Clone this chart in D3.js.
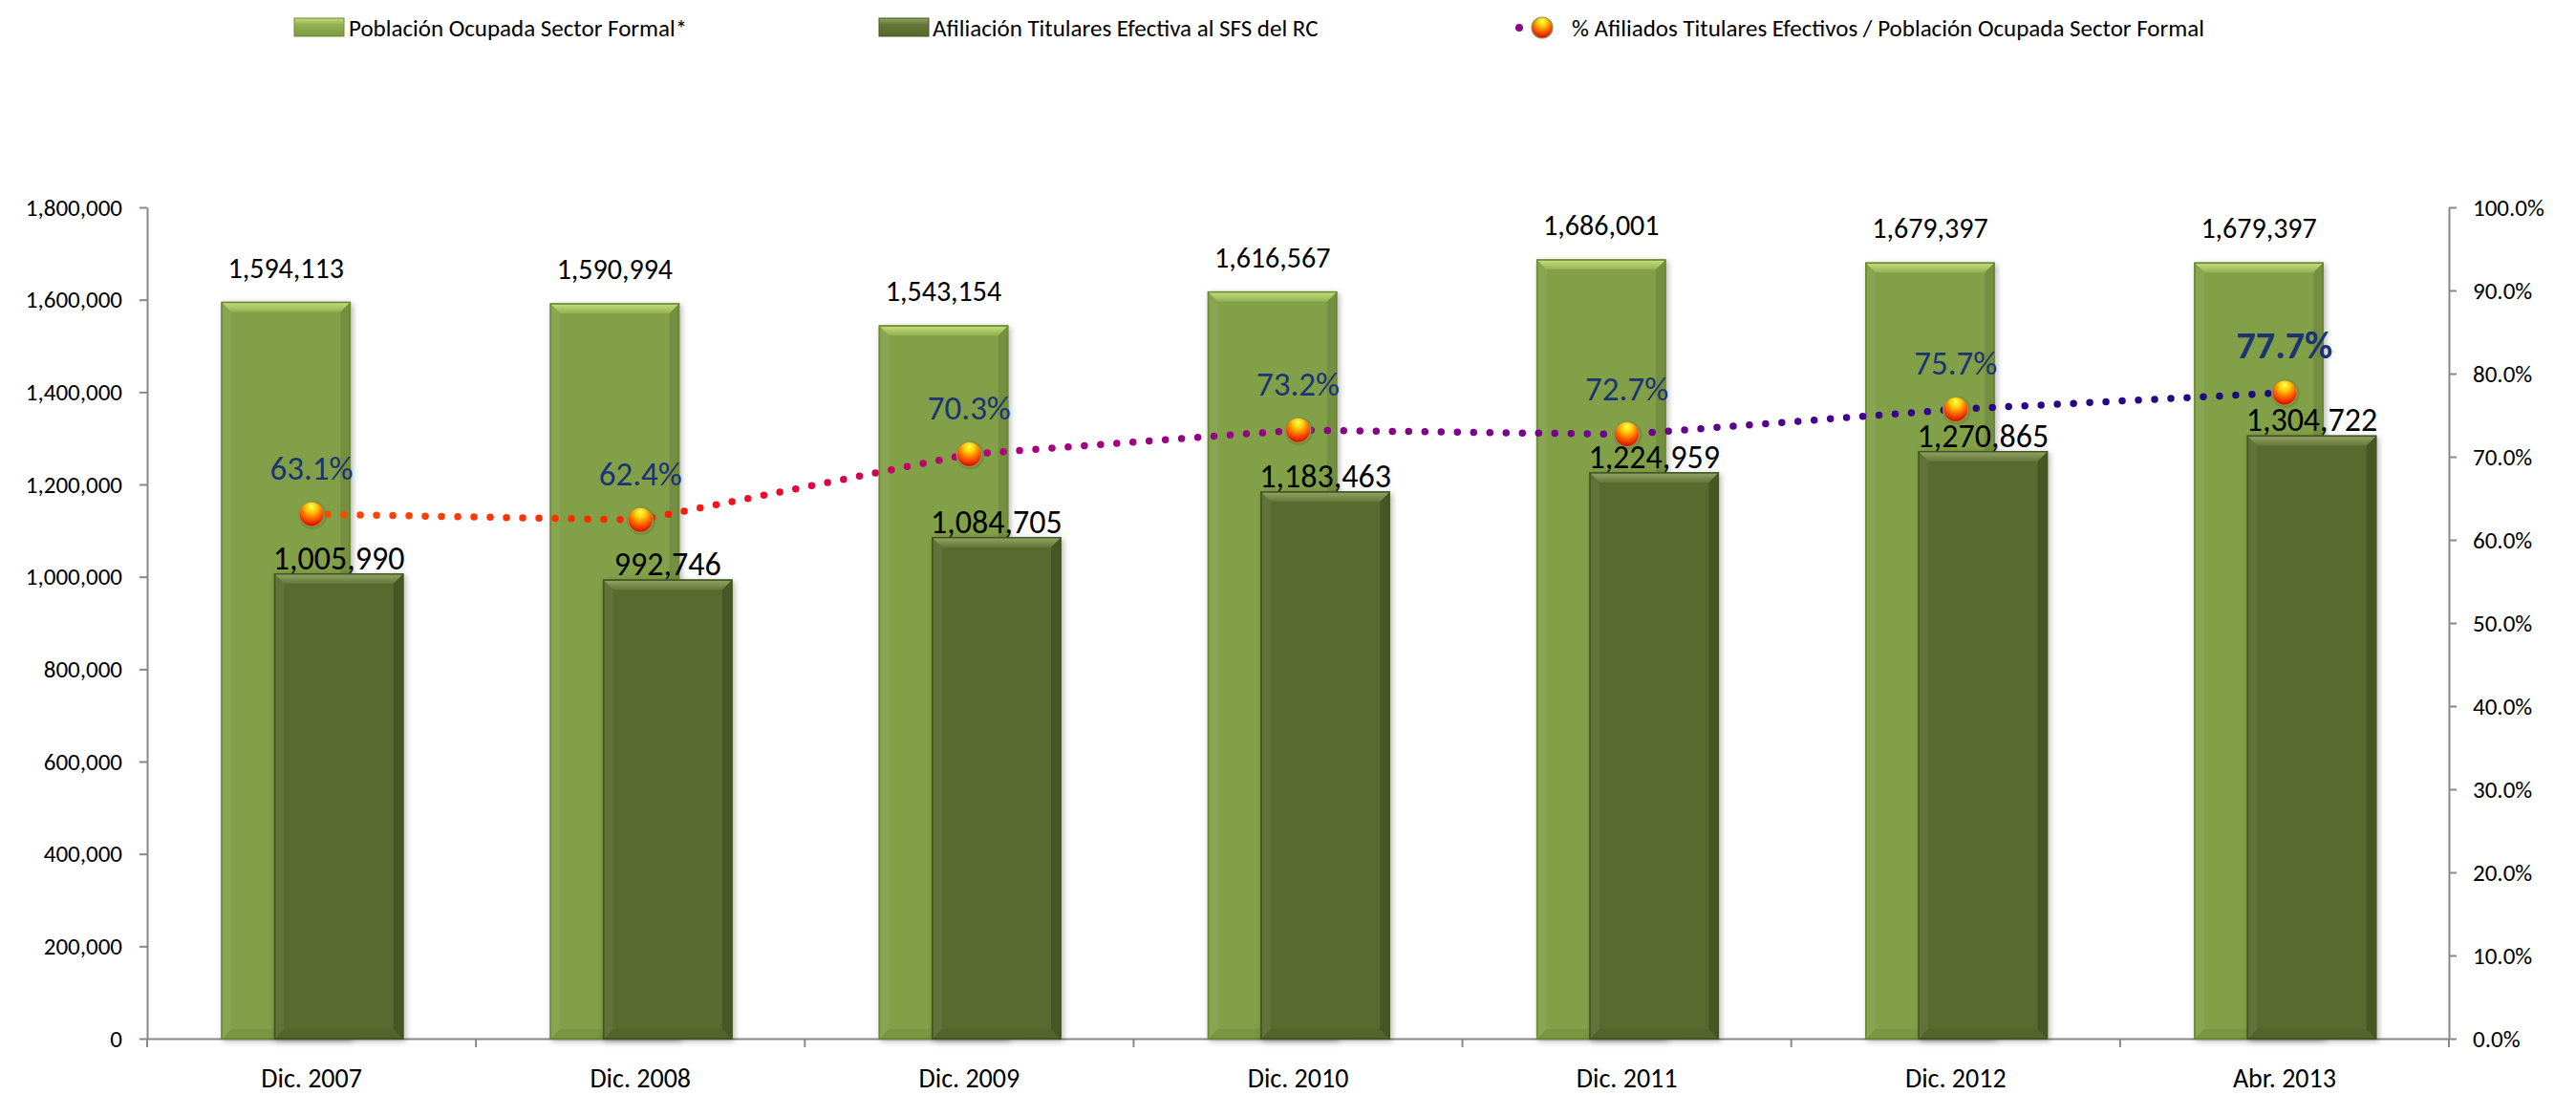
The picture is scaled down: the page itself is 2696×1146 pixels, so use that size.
<!DOCTYPE html>
<html>
<head>
<meta charset="utf-8">
<script src="https://cdn.jsdelivr.net/npm/d3@7"></script>
<style>
  body { margin: 0; background: #fff; }
  text { font-family: Carlito, Lato, "Open Sans", sans-serif; }
</style>
</head>
<body>
<div id="chart"></div>
<script>
// data
const categories = ["Dic. 2007", "Dic. 2008", "Dic. 2009", "Dic. 2010", "Dic. 2011", "Dic. 2012", "Abr. 2013"];
const poblacion = [1594113, 1590994, 1543154, 1616567, 1686001, 1679397, 1679397];
const afiliados = [1005990, 992746, 1084705, 1183463, 1224959, 1270865, 1304722];
const porcentaje = [63.1, 62.4, 70.3, 73.2, 72.7, 75.7, 77.7];
const leftTicks = [0, 200000, 400000, 600000, 800000, 1000000, 1200000, 1400000, 1600000, 1800000];
const rightTicks = [0, 0.1, 0.2, 0.3, 0.4, 0.5, 0.6, 0.7, 0.8, 0.9, 1.0];
const legendNames = ["Población Ocupada Sector Formal*", "Afiliación Titulares Efectiva al SFS del RC", "% Afiliados Titulares Efectivos / Población Ocupada Sector Formal"];

const W = 2696, H = 1146;
const plot = { left: 154, right: 2563, top: 217, bottom: 1087 };

const svg = d3.select("#chart").append("svg")
  .attr("width", W)
  .attr("height", H);

const defs = svg.append("defs");

// soft shadow behind the bars
const shadow = defs.append("filter").attr("id", "shadow")
  .attr("x", "-20%").attr("y", "-5%").attr("width", "140%").attr("height", "110%");
shadow.append("feDropShadow").attr("dx", 2).attr("dy", 2)
  .attr("stdDeviation", 3).attr("flood-color", "#000").attr("flood-opacity", 0.3);

// bevel gradients
function vGrad(id, stops) {
  const g = defs.append("linearGradient").attr("id", id)
    .attr("x1", 0).attr("y1", 0).attr("x2", 0).attr("y2", 1);
  stops.forEach(s => g.append("stop").attr("offset", s[0]).attr("stop-color", s[1]));
}
vGrad("lightTop", [[0, "#c4df7c"], [1, "#93b052"]]);
vGrad("darkTop", [[0, "#94a468"], [1, "#667838"]]);
vGrad("lightSwatch", [[0, "#c4df7c"], [0.35, "#93b052"], [1, "#7e9a40"]]);
vGrad("darkSwatch", [[0, "#94a468"], [0.35, "#667838"], [1, "#55672a"]]);

// sphere marker
const sph = defs.append("radialGradient").attr("id", "sphere")
  .attr("cx", "50%").attr("cy", "30%").attr("r", "70%").attr("fx", "50%").attr("fy", "18%");
sph.append("stop").attr("offset", "0").attr("stop-color", "#ffff66");
sph.append("stop").attr("offset", "0.3").attr("stop-color", "#ffd000");
sph.append("stop").attr("offset", "0.6").attr("stop-color", "#ff6a00");
sph.append("stop").attr("offset", "1").attr("stop-color", "#d80000");

// scales
const x = d3.scaleBand().domain(categories).range([plot.left, plot.right]).padding(0);
const y = d3.scaleLinear().domain([0, 1800000]).range([plot.bottom, plot.top]);
const y2 = d3.scaleLinear().domain([0, 1]).range([plot.bottom, plot.top]);
const bw = x.bandwidth();

// line gradient along x
const lg = defs.append("linearGradient").attr("id", "lineGrad")
  .attr("gradientUnits", "userSpaceOnUse")
  .attr("x1", x(categories[0]) + bw / 2).attr("y1", 0)
  .attr("x2", x(categories[6]) + bw / 2).attr("y2", 0);
[[0, "#ff4a00"], [0.17, "#ff2400"], [0.25, "#e8003c"], [0.33, "#b0007a"],
 [0.5, "#8c0088"], [0.67, "#6c008e"], [0.83, "#30008c"], [1, "#1c0c7a"]]
  .forEach(s => lg.append("stop").attr("offset", s[0]).attr("stop-color", s[1]));

// axes
const axisColor = "#888";
const gl = svg.append("g").attr("transform", `translate(${plot.left},0)`)
  .call(d3.axisLeft(y).tickValues(leftTicks).tickFormat(d3.format(",")).tickSize(8).tickSizeOuter(0).tickPadding(18));
const gr = svg.append("g").attr("transform", `translate(${plot.right},0)`)
  .call(d3.axisRight(y2).tickValues(rightTicks).tickFormat(d3.format(".1%")).tickSize(8).tickSizeOuter(0).tickPadding(17));
const gx = svg.append("g").attr("transform", `translate(0,${plot.bottom})`)
  .call(d3.axisBottom(x).tickSize(0).tickSizeOuter(0).tickPadding(31));

[gl, gr, gx].forEach(g => {
  g.select(".domain").attr("stroke", axisColor).attr("stroke-width", 2);
  g.selectAll(".tick line").attr("stroke", axisColor).attr("stroke-width", 2);
  g.selectAll(".tick text").attr("fill", "#000").style("font-family", "Carlito, Lato, sans-serif");
});
gl.selectAll(".tick text").style("font-size", "25px");
gr.selectAll(".tick text").style("font-size", "25px");
gx.selectAll(".tick text").style("font-size", "28px");

// category boundary ticks on x axis
const bounds = categories.map(c => x(c)).concat([x(categories[6]) + bw]);
svg.append("g").selectAll("line").data(bounds).join("line")
  .attr("x1", d => d).attr("x2", d => d)
  .attr("y1", plot.bottom).attr("y2", plot.bottom + 9)
  .attr("stroke", axisColor).attr("stroke-width", 2);

// bars with a bevel look
const barW = bw * 0.39;
function drawBar(g, bx, val, main, edge, top, dark) {
  const x0 = bx, x1 = bx + barW, yt = y(val), yb = y(0), b = 10;
  g.append("rect").attr("x", x0).attr("y", yt).attr("width", barW).attr("height", yb - yt)
    .attr("fill", main).attr("stroke", edge).attr("stroke-width", 1.5).attr("filter", "url(#shadow)");
  // left edge
  g.append("polygon").attr("points", `${x0},${yt} ${x0 + b},${yt + b} ${x0 + b},${yb - b} ${x0},${yb}`)
    .attr("fill", "#fff").attr("opacity", 0.06);
  // right edge
  g.append("polygon").attr("points", `${x1},${yt} ${x1 - b},${yt + b} ${x1 - b},${yb - b} ${x1},${yb}`)
    .attr("fill", "#000").attr("opacity", dark ? 0.18 : 0.1);
  // bottom edge
  g.append("polygon").attr("points", `${x0},${yb} ${x0 + b},${yb - b} ${x1 - b},${yb - b} ${x1},${yb}`)
    .attr("fill", "#000").attr("opacity", 0.06);
  // top bevel
  g.append("polygon").attr("points", `${x0},${yt} ${x1},${yt} ${x1 - b},${yt + b} ${x0 + b},${yt + b}`)
    .attr("fill", top);
  g.append("rect").attr("x", x0).attr("y", yt).attr("width", barW).attr("height", yb - yt)
    .attr("fill", "none").attr("stroke", edge).attr("stroke-width", 1.5);
}

const barsLight = svg.append("g");
categories.forEach((c, i) => {
  drawBar(barsLight.append("g"), x(c) + bw * 0.227, poblacion[i], "#82a046", "#6c8a34", "url(#lightTop)", false);
});
const barsDark = svg.append("g");
categories.forEach((c, i) => {
  drawBar(barsDark.append("g"), x(c) + bw * 0.388, afiliados[i], "#586b2e", "#445624", "url(#darkTop)", true);
});

// dotted line for the percentage series
const line = d3.line()
  .x((d, i) => x(categories[i]) + bw / 2)
  .y(d => y2(d / 100));
svg.append("path").datum(porcentaje)
  .attr("d", line)
  .attr("fill", "none")
  .attr("stroke", "url(#lineGrad)")
  .attr("stroke-width", 7.5)
  .attr("stroke-linecap", "round")
  .attr("stroke-dasharray", "0 17");

// markers
const markers = svg.append("g");
porcentaje.forEach((p, i) => {
  const cx = x(categories[i]) + bw / 2, cy = y2(p / 100);
  markers.append("circle").attr("cx", cx + 1).attr("cy", cy + 1).attr("r", 15)
    .attr("fill", "#6b7a2e").attr("opacity", 0.45);
  markers.append("circle").attr("cx", cx).attr("cy", cy).attr("r", 13)
    .attr("fill", "url(#sphere)").attr("stroke", "#8a9a50").attr("stroke-width", 1.2);
});

// data labels
const labels = svg.append("g").attr("text-anchor", "middle");
categories.forEach((c, i) => {
  labels.append("text")
    .attr("x", x(c) + bw * 0.227 + barW / 2)
    .attr("y", y(poblacion[i]) - 26)
    .attr("font-size", 30).attr("fill", "#000")
    .text(d3.format(",")(poblacion[i]));
  labels.append("text")
    .attr("x", x(c) + bw * 0.388 + barW / 2)
    .attr("y", y(afiliados[i]) - 5)
    .attr("font-size", 34).attr("fill", "#000")
    .text(d3.format(",")(afiliados[i]));
  const last = i === categories.length - 1;
  labels.append("text")
    .attr("x", x(c) + bw / 2)
    .attr("y", y2(porcentaje[i] / 100) - 36)
    .attr("font-size", last ? 40 : 35)
    .attr("font-weight", last ? "bold" : "normal")
    .attr("fill", "#1c3473")
    .text(porcentaje[i].toFixed(1) + "%");
});

// legend
const legend = svg.append("g").attr("font-size", 25).attr("fill", "#000");
legend.append("rect").attr("x", 308).attr("y", 19).attr("width", 52).attr("height", 19)
  .attr("fill", "url(#lightSwatch)").attr("stroke", "#6c8a34");
legend.append("text").attr("x", 365).attr("y", 38).text(legendNames[0]);
legend.append("rect").attr("x", 920).attr("y", 19).attr("width", 52).attr("height", 19)
  .attr("fill", "url(#darkSwatch)").attr("stroke", "#445624");
legend.append("text").attr("x", 976).attr("y", 38).text(legendNames[1]);
legend.append("circle").attr("cx", 1590).attr("cy", 29).attr("r", 4).attr("fill", "#8a0088");
legend.append("circle").attr("cx", 1614).attr("cy", 29).attr("r", 11)
  .attr("fill", "url(#sphere)").attr("stroke", "#8a9a50").attr("stroke-width", 1.2);
legend.append("text").attr("x", 1645).attr("y", 38).text(legendNames[2]);
</script>
</body>
</html>
